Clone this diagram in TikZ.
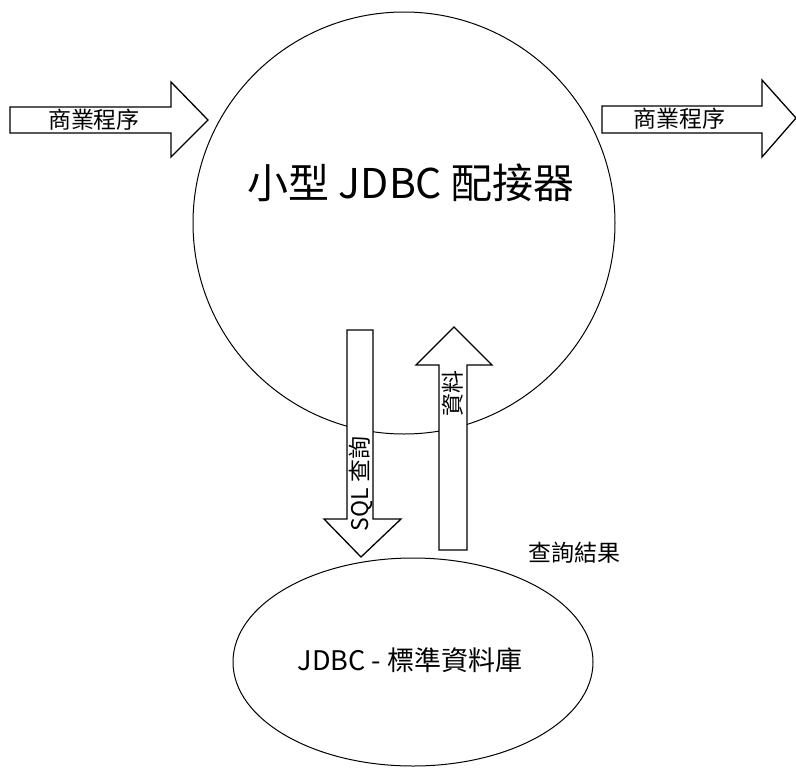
\documentclass[tikz,border=0pt]{standalone}
\usepackage{fontspec}
\usetikzlibrary{shapes.geometric}
\setmainfont{Noto Sans CJK TC}
\begin{document}
\begin{tikzpicture}[x=1pt,y=-1pt,
  outline/.style={draw=black,line width=1pt},
  arrowshape/.style={draw=black,line width=1.3pt,fill=white,line join=miter},
  lbl/.style={inner sep=0pt,font=\fontsize{23}{23}\selectfont}]
\useasboundingbox (0,0) rectangle (796,772);
% main circle
\node[outline,circle,minimum size=422pt,inner sep=0pt] (adapter) at (404,223) {};
\node[inner sep=0pt,font=\fontsize{41}{41}\selectfont] (adaptertext) at (411,183) {小型 JDBC 配接器};
% database ellipse
\node[outline,ellipse,minimum width=360pt,minimum height=208pt,inner sep=0pt] (db) at (413,662) {};
\node[inner sep=0pt,font=\fontsize{27}{27}\selectfont] (dbtext) at (410,660) {JDBC - 標準資料庫};
% left arrow
\draw[arrowshape] (10,107) -- (171,107) -- (171,82) -- (208,120) -- (171,157) -- (171,133) -- (10,133) -- cycle;
\node[lbl] (inbiz) at (94,120) {商業程序};
% right arrow
\draw[arrowshape] (602,106) -- (762,106) -- (762,80) -- (796,118) -- (762,157) -- (762,133) -- (602,133) -- cycle;
\node[lbl] (outbiz) at (679,119) {商業程序};
% down arrow (SQL query)
\draw[arrowshape] (347,330) -- (373,330) -- (373,519) -- (401,519) -- (361,557) -- (324,519) -- (347,519) -- cycle;
\node[lbl,rotate=90] (sql) at (361,484) {SQL 查詢};
% up arrow (data)
\draw[arrowshape] (439,550) -- (439,365) -- (416,365) -- (454,327) -- (492,365) -- (467,365) -- (467,550) -- cycle;
\node[lbl,rotate=90] (data) at (453,393) {資料};
\node[lbl] (result) at (574,553) {查詢結果};
\end{tikzpicture}
\end{document}
